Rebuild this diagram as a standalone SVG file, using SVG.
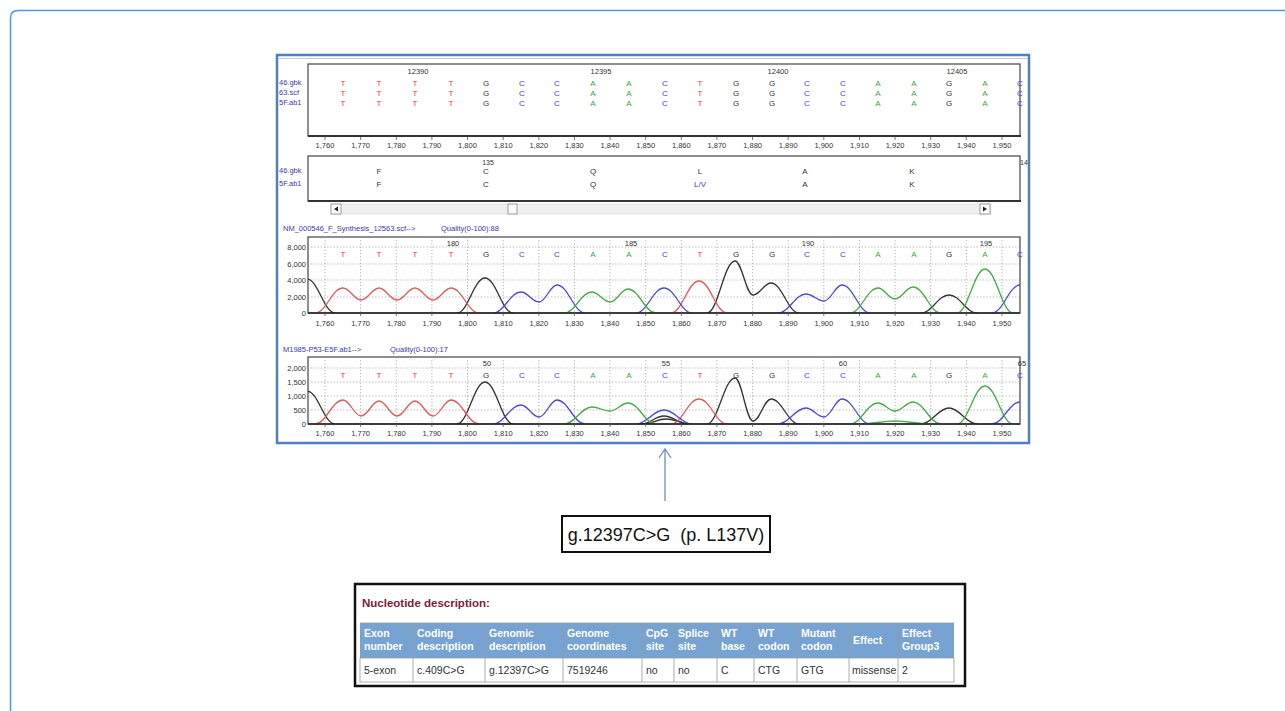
<svg xmlns="http://www.w3.org/2000/svg" width="1285" height="711" viewBox="0 0 1285 711">
<style>
text{font-family:"Liberation Sans",Arial,sans-serif}
.lbl{font-size:7.5px;fill:#3a3aa8}
.tk{font-size:7.5px;fill:#333;text-anchor:middle}
.yl{font-size:7.5px;fill:#333;text-anchor:end}
.b{font-size:8px;text-anchor:middle}
.t{fill:#e23b3b}.g{fill:#333}.c{fill:#4a3ccf}.a{fill:#3fa34a}
.pos{font-size:7.5px;fill:#333;text-anchor:middle}
.box{fill:#fff;stroke:#444;stroke-width:1.2}
.grid{stroke:#9a9a9a;stroke-width:0.8;stroke-dasharray:1.2 2;fill:none}
.tr{fill:none;stroke-width:1.3}
.tr.t{stroke:#e05a5a}.tr.g{stroke:#333}.tr.c{stroke:#4a4ad0}.tr.a{stroke:#4aa64a}
.tick{stroke:#555;stroke-width:0.8}
.th{font-size:10.5px;font-weight:bold;fill:#fff}
.td{font-size:10.5px;fill:#333}
.cell{stroke:#9a9a9a;stroke-width:0.8}
</style>
<defs>
<clipPath id="c1"><rect x="308" y="237" width="712" height="76"/></clipPath>
<clipPath id="c2"><rect x="308" y="357" width="712" height="67"/></clipPath>
</defs>
<rect width="1285" height="711" fill="#fff"/>
<path d="M10.5,711 V18 Q10.5,10.5 18,10.5 H1285" fill="none" stroke="#4a9ad8" stroke-width="1.5"/>

<g id="screenshot">
<rect x="277" y="55" width="752" height="388" fill="#fff" stroke="#4f7fc0" stroke-width="2.5"/>
<line x1="278" y1="58.5" x2="1028" y2="58.5" stroke="#c8c8c8" stroke-width="1"/>
</g>

<g id="seq-panel">
<rect class="box" x="308" y="64" width="712" height="72"/>
<line x1="308" y1="136" x2="1021" y2="136" stroke="#333" stroke-width="2"/>
<text class="lbl" x="279" y="85">46.gbk</text>
<text class="lbl" x="279" y="95">63.scf</text>
<text class="lbl" x="279" y="105">5F.ab1</text>
<text class="pos" x="418" y="74">12390</text>
<text class="pos" x="601" y="74">12395</text>
<text class="pos" x="778" y="74">12400</text>
<text class="pos" x="957" y="74">12405</text>
<text class="b" y="85.5"><tspan class="t" x="343 379 415 451">TTTT</tspan><tspan class="g" x="486">G</tspan><tspan class="c" x="522 557">CC</tspan><tspan class="a" x="593 629">AA</tspan><tspan class="c" x="665">C</tspan><tspan class="t" x="700">T</tspan><tspan class="g" x="736 772">GG</tspan><tspan class="c" x="807 843">CC</tspan><tspan class="a" x="878 914">AA</tspan><tspan class="g" x="949">G</tspan><tspan class="a" x="985">A</tspan><tspan class="c" x="1020">C</tspan></text>
<text class="b" y="95.5"><tspan class="t" x="343 379 415 451">TTTT</tspan><tspan class="g" x="486">G</tspan><tspan class="c" x="522 557">CC</tspan><tspan class="a" x="593 629">AA</tspan><tspan class="c" x="665">C</tspan><tspan class="t" x="700">T</tspan><tspan class="g" x="736 772">GG</tspan><tspan class="c" x="807 843">CC</tspan><tspan class="a" x="878 914">AA</tspan><tspan class="g" x="949">G</tspan><tspan class="a" x="985">A</tspan><tspan class="c" x="1020">C</tspan></text>
<text class="b" y="105.5"><tspan class="t" x="343 379 415 451">TTTT</tspan><tspan class="g" x="486">G</tspan><tspan class="c" x="522 557">CC</tspan><tspan class="a" x="593 629">AA</tspan><tspan class="c" x="665">C</tspan><tspan class="t" x="700">T</tspan><tspan class="g" x="736 772">GG</tspan><tspan class="c" x="807 843">CC</tspan><tspan class="a" x="878 914">AA</tspan><tspan class="g" x="949">G</tspan><tspan class="a" x="985">A</tspan><tspan class="c" x="1020">C</tspan></text>
<path class="tick" d="M325,137V140M360.6,137V140M396.3,137V140M431.9,137V140M467.5,137V140M503.2,137V140M538.8,137V140M574.4,137V140M610,137V140M645.7,137V140M681.3,137V140M716.9,137V140M752.6,137V140M788.2,137V140M823.8,137V140M859.5,137V140M895.1,137V140M930.7,137V140M966.3,137V140M1002,137V140"/>
<text class="tk" x="325" y="148">1,760</text><text class="tk" x="360.6" y="148">1,770</text><text class="tk" x="396.3" y="148">1,780</text><text class="tk" x="431.9" y="148">1,790</text><text class="tk" x="467.5" y="148">1,800</text><text class="tk" x="503.2" y="148">1,810</text><text class="tk" x="538.8" y="148">1,820</text><text class="tk" x="574.4" y="148">1,830</text><text class="tk" x="610" y="148">1,840</text><text class="tk" x="645.7" y="148">1,850</text><text class="tk" x="681.3" y="148">1,860</text><text class="tk" x="716.9" y="148">1,870</text><text class="tk" x="752.6" y="148">1,880</text><text class="tk" x="788.2" y="148">1,890</text><text class="tk" x="823.8" y="148">1,900</text><text class="tk" x="859.5" y="148">1,910</text><text class="tk" x="895.1" y="148">1,920</text><text class="tk" x="930.7" y="148">1,930</text><text class="tk" x="966.3" y="148">1,940</text><text class="tk" x="1002" y="148">1,950</text>
</g>

<g id="aa-panel">
<rect class="box" x="308" y="156" width="712" height="45"/>
<line x1="308" y1="201" x2="1021" y2="201" stroke="#333" stroke-width="2"/>
<text class="lbl" x="279" y="173">46.gbk</text>
<text class="lbl" x="279" y="186">5F.ab1</text>
<text class="pos" x="488" y="165" style="font-size:7px">135</text>
<text class="b g" y="174"><tspan x="379">F</tspan><tspan x="486">C</tspan><tspan x="593">Q</tspan><tspan x="700">L</tspan><tspan x="805">A</tspan><tspan x="912">K</tspan></text>
<text class="b g" y="187"><tspan x="379">F</tspan><tspan x="486">C</tspan><tspan x="593">Q</tspan><tspan class="c" x="700">L/V</tspan><tspan x="805">A</tspan><tspan x="912">K</tspan></text>
<text x="1020" y="165" style="font-size:7px;fill:#333">14</text>
</g>

<g id="scrollbar">
<rect x="331" y="204" width="660" height="10" fill="#efefef" stroke="#d8d8d8" stroke-width="0.6"/>
<rect x="331" y="204" width="10" height="10" fill="#fff" stroke="#888" stroke-width="0.8"/>
<polygon points="334,209 338,206.5 338,211.5" fill="#222"/>
<rect x="508" y="204" width="9" height="10" fill="#fafafa" stroke="#888" stroke-width="0.8"/>
<rect x="980" y="204" width="10" height="10" fill="#fff" stroke="#888" stroke-width="0.8"/>
<polygon points="987,209 983,206.5 983,211.5" fill="#222"/>
</g>

<g id="chrom1">
<text class="lbl" x="283" y="231">NM_000546_F_Synthesis_12563.scf--&gt;</text>
<text class="lbl" x="441" y="231">Quality(0-100):88</text>
<rect x="308" y="237" width="712" height="76" fill="#fff" stroke="#444" stroke-width="1.2"/>
<path class="grid" d="M308,247H1020M308,264H1020M308,280H1020M308,297H1020M325,237V313M360.6,237V313M396.3,237V313M431.9,237V313M467.5,237V313M503.2,237V313M538.8,237V313M574.4,237V313M610,237V313M645.7,237V313M681.3,237V313M716.9,237V313M752.6,237V313M788.2,237V313M823.8,237V313M859.5,237V313M895.1,237V313M930.7,237V313M966.3,237V313M1002,237V313"/>
<text class="yl" x="306" y="250">8,000</text><text class="yl" x="306" y="267">6,000</text><text class="yl" x="306" y="283">4,000</text><text class="yl" x="306" y="300">2,000</text><text class="yl" x="306" y="316">0</text>
<text class="pos" x="453" y="246">180</text><text class="pos" x="631" y="246">185</text><text class="pos" x="808" y="246">190</text><text class="pos" x="986" y="246">195</text>
<text class="b" y="257"><tspan class="t" x="343 379 415 451">TTTT</tspan><tspan class="g" x="486">G</tspan><tspan class="c" x="522 557">CC</tspan><tspan class="a" x="593 629">AA</tspan><tspan class="c" x="665">C</tspan><tspan class="t" x="700">T</tspan><tspan class="g" x="736 772">GG</tspan><tspan class="c" x="807 843">CC</tspan><tspan class="a" x="878 914">AA</tspan><tspan class="g" x="949">G</tspan><tspan class="a" x="985">A</tspan><tspan class="c" x="1020">C</tspan></text>
<g clip-path="url(#c1)">
<path class="tr g" d="M280,313 C291,313 296,279 307,279 C318,279 324,313 335,313"/>
<path class="tr g" d="M457,313 C468,313 474,278 485,278 C496,278 502,313 513,313"/>
<path class="tr g" d="M707,313 C718,313 724,261 735,261 C742,261 746,295 753,295 C760,295 764,283 771,283 C782,283 788,313 799,313"/>
<path class="tr g" d="M921,313 C932,313 938,295 949,295 C960,295 966,313 977,313"/>
<path class="tr t" d="M315,313 C326,313 332,288 343,288 C350,288 354,300 361,300 C368,300 372,288 379,288 C386,288 390,300 397,300 C404,300 408,288 415,288 C422,288 426,300 433,300 C440,300 444,288 451,288 C462,288 468,313 479,313"/>
<path class="tr t" d="M671,313 C682,313 688,281 699,281 C710,281 716,313 727,313"/>
<path class="tr c" d="M493,313 C504,313 510,292 521,292 C528,292 532,302 539,302 C546,302 550,285 557,285 C568,285 574,313 585,313"/>
<path class="tr c" d="M636,313 C647,313 653,288 664,288 C675,288 681,313 692,313"/>
<path class="tr c" d="M778,313 C789,313 795,294 806,294 C813,294 817,301 824,301 C831,301 835,285 842,285 C853,285 859,313 870,313"/>
<path class="tr c" d="M992,313 C1003,313 1009,285 1020,285 C1031,285 1037,313 1048,313"/>
<path class="tr a" d="M564,313 C575,313 581,292 592,292 C599,292 603,302 610,302 C617,302 621,289 628,289 C639,289 645,313 656,313"/>
<path class="tr a" d="M850,313 C861,313 867,288 878,288 C885,288 888,299 895,299 C902,299 906,287 913,287 C924,287 930,313 941,313"/>
<path class="tr a" d="M957,313 C968,313 974,269 985,269 C996,269 1002,313 1013,313"/>
</g>
<line x1="308" y1="313" x2="1020" y2="313" stroke="#222" stroke-width="1.6"/>
<path class="tick" d="M325,313V316M360.6,313V316M396.3,313V316M431.9,313V316M467.5,313V316M503.2,313V316M538.8,313V316M574.4,313V316M610,313V316M645.7,313V316M681.3,313V316M716.9,313V316M752.6,313V316M788.2,313V316M823.8,313V316M859.5,313V316M895.1,313V316M930.7,313V316M966.3,313V316M1002,313V316"/>
<text class="tk" x="325" y="326">1,760</text><text class="tk" x="360.6" y="326">1,770</text><text class="tk" x="396.3" y="326">1,780</text><text class="tk" x="431.9" y="326">1,790</text><text class="tk" x="467.5" y="326">1,800</text><text class="tk" x="503.2" y="326">1,810</text><text class="tk" x="538.8" y="326">1,820</text><text class="tk" x="574.4" y="326">1,830</text><text class="tk" x="610" y="326">1,840</text><text class="tk" x="645.7" y="326">1,850</text><text class="tk" x="681.3" y="326">1,860</text><text class="tk" x="716.9" y="326">1,870</text><text class="tk" x="752.6" y="326">1,880</text><text class="tk" x="788.2" y="326">1,890</text><text class="tk" x="823.8" y="326">1,900</text><text class="tk" x="859.5" y="326">1,910</text><text class="tk" x="895.1" y="326">1,920</text><text class="tk" x="930.7" y="326">1,930</text><text class="tk" x="966.3" y="326">1,940</text><text class="tk" x="1002" y="326">1,950</text>
</g>

<g id="chrom2">
<text class="lbl" x="283" y="352">M1985-P53-E5F.ab1--&gt;</text>
<text class="lbl" x="390" y="352">Quality(0-100):17</text>
<rect x="308" y="357" width="712" height="67" fill="#fff" stroke="#444" stroke-width="1.2"/>
<path class="grid" d="M308,368H1020M308,382H1020M308,396H1020M308,410H1020M325,357V424M360.6,357V424M396.3,357V424M431.9,357V424M467.5,357V424M503.2,357V424M538.8,357V424M574.4,357V424M610,357V424M645.7,357V424M681.3,357V424M716.9,357V424M752.6,357V424M788.2,357V424M823.8,357V424M859.5,357V424M895.1,357V424M930.7,357V424M966.3,357V424M1002,357V424"/>
<text class="yl" x="306" y="371">2,000</text><text class="yl" x="306" y="385">1,500</text><text class="yl" x="306" y="399">1,000</text><text class="yl" x="306" y="413">500</text><text class="yl" x="306" y="427">0</text>
<text class="pos" x="487" y="366">50</text><text class="pos" x="666" y="366">55</text><text class="pos" x="843" y="366">60</text><text class="pos" x="1022" y="366">65</text>
<text class="b" y="378"><tspan class="t" x="343 379 415 451">TTTT</tspan><tspan class="g" x="486">G</tspan><tspan class="c" x="522 557">CC</tspan><tspan class="a" x="593 629">AA</tspan><tspan class="c" x="665">C</tspan><tspan class="t" x="700">T</tspan><tspan class="g" x="736 772">GG</tspan><tspan class="c" x="807 843">CC</tspan><tspan class="a" x="878 914">AA</tspan><tspan class="g" x="949">G</tspan><tspan class="a" x="985">A</tspan><tspan class="c" x="1020">C</tspan></text>
<g clip-path="url(#c2)">
<path class="tr g" d="M280,424 C291,424 296,391 307,391 C318,391 324,424 335,424"/>
<path class="tr g" d="M457,424 C468,424 474,382 485,382 C496,382 502,424 513,424"/>
<path class="tr g" d="M640,424 C652,424 654,416 664,416 C674,416 678,424 690,424"/>
<path class="tr g" d="M642,424 C654,424 656,419 666,419 C676,419 680,424 692,424"/>
<path class="tr g" d="M707,424 C718,424 724,378 735,378 C742,378 746,421 753,421 C760,421 764,399 771,399 C782,399 788,424 799,424"/>
<path class="tr g" d="M921,424 C932,424 938,408 949,408 C960,408 966,424 977,424"/>
<path class="tr t" d="M315,424 C326,424 332,400 343,400 C350,400 354,416 361,416 C368,416 372,401 379,401 C386,401 390,416 397,416 C404,416 408,401 415,401 C422,401 426,416 433,416 C440,416 444,400 451,400 C462,400 468,424 479,424"/>
<path class="tr t" d="M671,424 C682,424 688,399 699,399 C710,399 716,424 727,424"/>
<path class="tr c" d="M493,424 C504,424 510,405 521,405 C528,405 532,417 539,417 C546,417 550,400 557,400 C568,400 574,424 585,424"/>
<path class="tr c" d="M636,424 C647,424 653,410 664,410 C675,410 681,424 692,424"/>
<path class="tr c" d="M778,424 C789,424 795,408 806,408 C813,408 817,417 824,417 C831,417 835,399 842,399 C853,399 859,424 870,424"/>
<path class="tr c" d="M992,424 C1003,424 1009,402 1020,402 C1031,402 1037,424 1048,424"/>
<path class="tr a" d="M564,424 C575,424 581,407 592,407 C599,407 603,411 610,411 C617,411 621,403 628,403 C639,403 645,424 656,424"/>
<path class="tr a" d="M860,424 C875,424 880,421 895,421 C910,421 915,424 930,424"/>
<path class="tr a" d="M850,424 C861,424 867,403 878,403 C885,403 888,411 895,411 C902,411 906,402 913,402 C924,402 930,424 941,424"/>
<path class="tr a" d="M957,424 C968,424 974,386 985,386 C996,386 1002,424 1013,424"/>
</g>
<line x1="308" y1="424" x2="1020" y2="424" stroke="#222" stroke-width="1.6"/>
<path class="tick" d="M325,424V427M360.6,424V427M396.3,424V427M431.9,424V427M467.5,424V427M503.2,424V427M538.8,424V427M574.4,424V427M610,424V427M645.7,424V427M681.3,424V427M716.9,424V427M752.6,424V427M788.2,424V427M823.8,424V427M859.5,424V427M895.1,424V427M930.7,424V427M966.3,424V427M1002,424V427"/>
<text class="tk" x="325" y="436">1,760</text><text class="tk" x="360.6" y="436">1,770</text><text class="tk" x="396.3" y="436">1,780</text><text class="tk" x="431.9" y="436">1,790</text><text class="tk" x="467.5" y="436">1,800</text><text class="tk" x="503.2" y="436">1,810</text><text class="tk" x="538.8" y="436">1,820</text><text class="tk" x="574.4" y="436">1,830</text><text class="tk" x="610" y="436">1,840</text><text class="tk" x="645.7" y="436">1,850</text><text class="tk" x="681.3" y="436">1,860</text><text class="tk" x="716.9" y="436">1,870</text><text class="tk" x="752.6" y="436">1,880</text><text class="tk" x="788.2" y="436">1,890</text><text class="tk" x="823.8" y="436">1,900</text><text class="tk" x="859.5" y="436">1,910</text><text class="tk" x="895.1" y="436">1,920</text><text class="tk" x="930.7" y="436">1,930</text><text class="tk" x="966.3" y="436">1,940</text><text class="tk" x="1002" y="436">1,950</text>
</g>

<g id="connectors">
<line x1="665" y1="501" x2="665" y2="450" stroke="#6b8fc0" stroke-width="1.3"/>
<polyline points="659,458 665,449 671,458" fill="none" stroke="#6b8fc0" stroke-width="1.3"/>
</g>

<g id="mutation-label">
<rect x="562" y="516" width="208" height="36" fill="#fff" stroke="#111" stroke-width="2"/>
<text x="666" y="541" text-anchor="middle" style="font-size:18px;fill:#111">g.12397C&gt;G&#160;&#160;(p. L137V)</text>
</g>

<g id="table">
<rect x="355" y="584" width="610" height="102" fill="#fff" stroke="#111" stroke-width="2.5"/>
<text x="362" y="607" style="font-size:11.5px;font-weight:bold;fill:#7b1c3c">Nucleotide description:</text>
<rect x="360" y="623" width="594" height="35" fill="#77a3d2"/>
<rect x="360" y="658" width="594" height="24" fill="#fff" stroke="#9a9a9a" stroke-width="0.8"/>
<path class="cell" d="M413,623V682M485,623V682M563,623V682M642,623V682M674,623V682M717,623V682M754,623V682M797,623V682M849,623V682M898,623V682M360,623H954"/>
<text class="th" y="637"><tspan x="364">Exon</tspan><tspan x="417">Coding</tspan><tspan x="489">Genomic</tspan><tspan x="567">Genome</tspan><tspan x="646">CpG</tspan><tspan x="678">Splice</tspan><tspan x="721">WT</tspan><tspan x="758">WT</tspan><tspan x="801">Mutant</tspan><tspan x="902">Effect</tspan></text>
<text class="th" y="650"><tspan x="364">number</tspan><tspan x="417">description</tspan><tspan x="489">description</tspan><tspan x="567">coordinates</tspan><tspan x="646">site</tspan><tspan x="678">site</tspan><tspan x="721">base</tspan><tspan x="758">codon</tspan><tspan x="801">codon</tspan><tspan x="902">Group3</tspan></text>
<text class="th" x="853" y="644">Effect</text>
<text class="td" y="674"><tspan x="364">5-exon</tspan><tspan x="417">c.409C&gt;G</tspan><tspan x="489">g.12397C&gt;G</tspan><tspan x="567">7519246</tspan><tspan x="646">no</tspan><tspan x="678">no</tspan><tspan x="721">C</tspan><tspan x="758">CTG</tspan><tspan x="801">GTG</tspan><tspan x="852">missense</tspan><tspan x="902">2</tspan></text>
</g>
</svg>
